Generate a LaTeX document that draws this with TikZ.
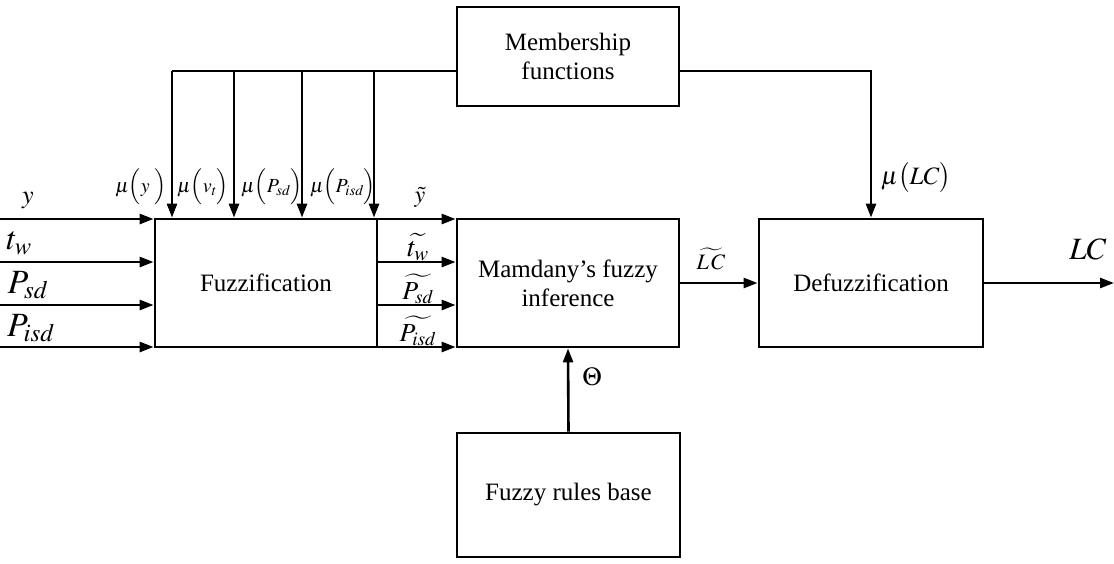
\documentclass[tikz,border=0pt]{standalone}
\usepackage{mathptmx}
\usepackage{fontspec}
\setmainfont{Liberation Serif}
\usetikzlibrary{arrows.meta,calc}
\begin{document}
\begin{tikzpicture}[x=1pt,y=-1pt,
  blk/.style={draw,line width=2.8pt,inner sep=0pt,align=center,font=\fontsize{25}{29}\selectfont},
  arr/.style={line width=2.6pt,-{Triangle[length=14pt,width=10pt]}},
  ln/.style={line width=2.6pt},
  lab/.style={inner sep=0pt}]
\useasboundingbox (0,0) rectangle (1114,563);
% boxes
\node[blk,minimum width=222pt,minimum height=99pt] (mf) at (568,56.5) {Membership\\functions};
\node[blk,minimum width=222pt,minimum height=128pt] (fz) at (266,283) {Fuzzification};
\node[blk,minimum width=222pt,minimum height=128pt] (mi) at (568,283) {Mamdany's fuzzy\\inference};
\node[blk,minimum width=224pt,minimum height=128pt] (df) at (871,283) {Defuzzification};
\node[blk,minimum width=223pt,minimum height=124pt] (rb) at (568.5,495) {Fuzzy rules base};
% top distribution line
\coordinate (t1) at (172,71);
\coordinate (t2) at (234,71);
\coordinate (t3) at (302,71);
\coordinate (t4) at (374,71);
\coordinate (tr) at (871,71);
\draw[ln] (mf.west |- t1) -- (t1);
\draw[arr] (t1) -- (t1 |- fz.north);
\draw[arr] (t2) -- (t2 |- fz.north);
\draw[arr] (t3) -- (t3 |- fz.north);
\draw[arr] (t4) -- (t4 |- fz.north);
\draw[arr] (mf.east |- tr) -- (tr) -- (tr |- df.north);
% inputs
\coordinate (i1) at (0,219);
\coordinate (i2) at (0,262);
\coordinate (i3) at (0,305);
\coordinate (i4) at (0,347);
\foreach \c in {i1,i2,i3,i4} {\draw[arr] (\c) -- (\c -| fz.west);}
% between fuzz and mamdany
\foreach \c in {i1,i2,i3,i4} {\draw[arr] (\c -| fz.east) -- (\c -| mi.west);}
% LC tilde and output
\coordinate (o1) at (0,283);
\coordinate (oend) at (1114,283);
\draw[arr] (o1 -| mi.east) -- (o1 -| df.west);
\draw[arr] (o1 -| df.east) -- (oend);
% rules
\draw[arr] (rb.north) -- (mi.south);
% labels
\node[lab,font=\fontsize{26}{30}\selectfont] (ly) at (28,200) {$y$};
\node[lab,font=\fontsize{33}{36}\selectfont] (ltw) at (19,243) {$t_w$};
\node[lab,font=\fontsize{34}{38}\selectfont] (lpsd) at (28,285) {$P_{sd}$};
\node[lab,font=\fontsize{34}{38}\selectfont] (lpisd) at (31,328) {$P_{isd}$};
\node[lab,font=\fontsize{20}{24}\selectfont] (mu1) at (141,187) {$\mu\Bigl(y\ \Bigr)$};
\node[lab,font=\fontsize{20}{24}\selectfont] (mu2) at (203,187) {$\mu\Bigl(v_t\Bigr)$};
\node[lab,font=\fontsize{20}{24}\selectfont] (mu3) at (272,187) {$\mu\Bigl(P_{sd}\Bigr)$};
\node[lab,font=\fontsize{20}{24}\selectfont] (mu4) at (343,187) {$\mu\Bigl(P_{isd}\Bigr)$};
\node[lab,font=\fontsize{24}{28}\selectfont] (ty) at (420,197) {$\tilde{y}$};
\node[lab,font=\fontsize{28}{32}\selectfont] (ttw) at (418,247) {$\widetilde{t_w}$};
\node[lab,font=\fontsize{26}{30}\selectfont] (tpsd) at (418,289) {$\widetilde{P_{sd}}$};
\node[lab,font=\fontsize{26}{30}\selectfont] (tpisd) at (418,331) {$\widetilde{P_{isd}}$};
\node[lab,font=\fontsize{22}{26}\selectfont] (tlc) at (711,259) {$\widetilde{L\,C}$};
\node[lab,font=\fontsize{31}{35}\selectfont] (lc) at (1088,249) {$LC$};
\node[lab,font=\fontsize{26}{30}\selectfont] (th) at (592,377) {$\Theta$};
\node[lab,font=\fontsize{25}{29}\selectfont] (mulc) at (916,178) {$\mu\bigl(LC\bigr)$};
\end{tikzpicture}
\end{document}
